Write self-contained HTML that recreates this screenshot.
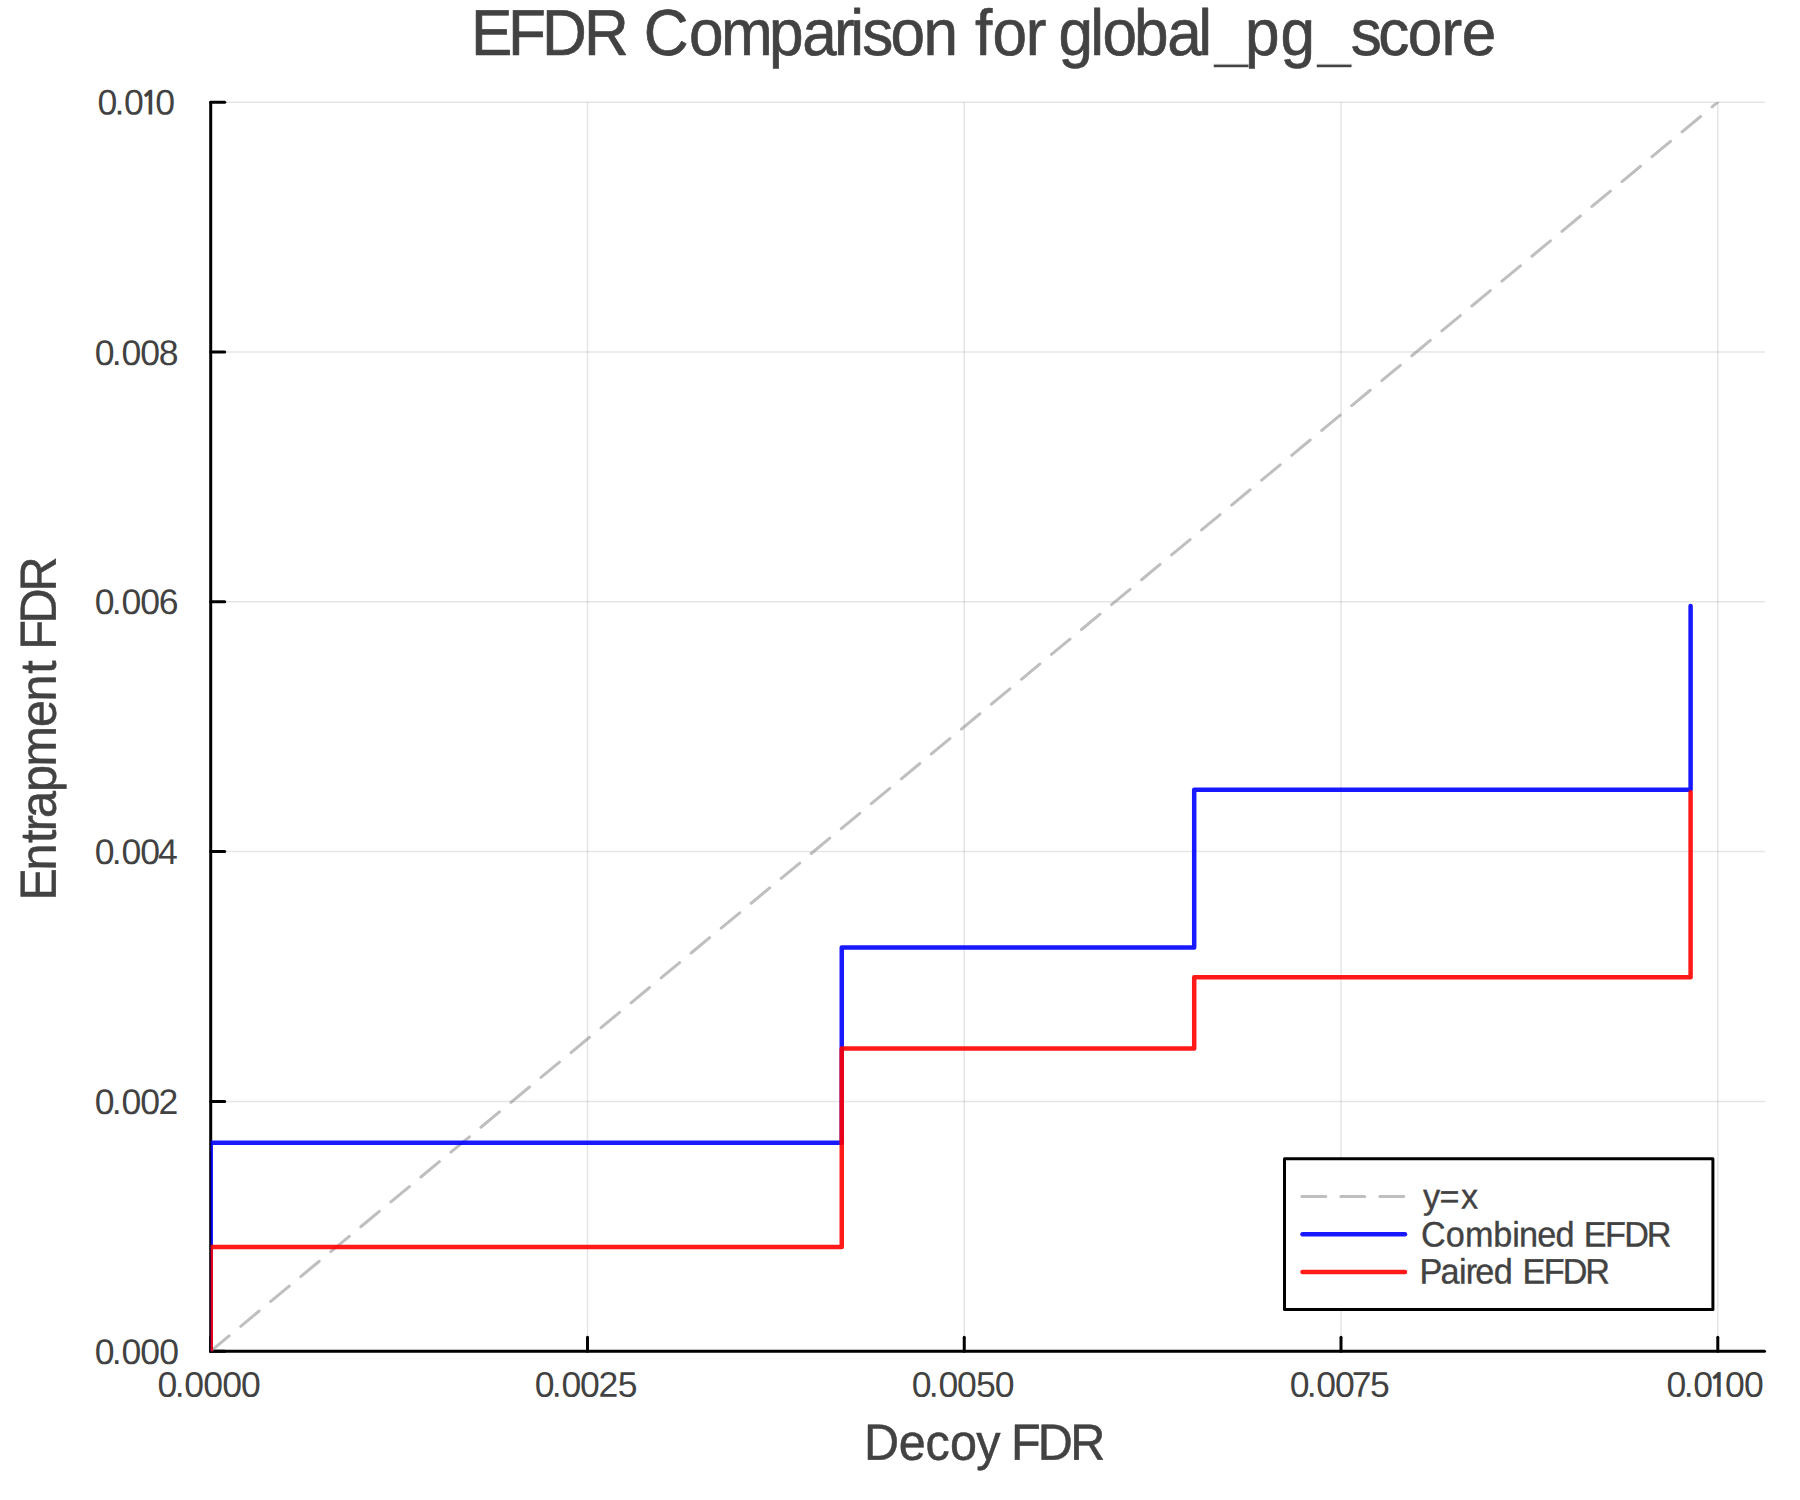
<!DOCTYPE html>
<html lang="en">
<head>
<meta charset="utf-8">
<title>EFDR Comparison for global_pg_score</title>
<style>
  html, body { margin: 0; padding: 0; background: #ffffff; }
  body { width: 1800px; height: 1500px; overflow: hidden; }
  svg { display: block; }
  text { font-family: "Liberation Sans", sans-serif; fill: #424242; text-rendering: geometricPrecision; stroke: #424242; stroke-width: 0.01em; stroke-linejoin: round; }
  .tk text { stroke: none; }
  .us { stroke: #ffffff; stroke-width: 1.3px; }
  .one { font-family: "NanumGothic", "Liberation Sans", sans-serif; font-weight: bold; }
  .grid line { stroke: #000; stroke-opacity: 0.1; stroke-width: 1.5; }
  .axis line { stroke: #000; stroke-width: 3; stroke-linecap: round; }
</style>
</head>
<body>
<svg width="1800" height="1500" viewBox="0 0 1800 1500">
  <defs>
    <clipPath id="plotclip"><rect x="210.7" y="102.2" width="1554.3" height="1249"/></clipPath>
  </defs>
  <rect x="0" y="0" width="1800" height="1500" fill="#ffffff"/>

  <!-- grid -->
  <g class="grid">
    <line x1="587.5" y1="102.2" x2="587.5" y2="1351.2"/>
    <line x1="964.25" y1="102.2" x2="964.25" y2="1351.2"/>
    <line x1="1341" y1="102.2" x2="1341" y2="1351.2"/>
    <line x1="1717.8" y1="102.2" x2="1717.8" y2="1351.2"/>
    <line x1="210.7" y1="1101.4" x2="1765" y2="1101.4"/>
    <line x1="210.7" y1="851.6" x2="1765" y2="851.6"/>
    <line x1="210.7" y1="601.8" x2="1765" y2="601.8"/>
    <line x1="210.7" y1="352" x2="1765" y2="352"/>
    <line x1="210.7" y1="102.2" x2="1765" y2="102.2"/>
  </g>

  <!-- axes + ticks -->
  <g class="axis">
    <line x1="210.7" y1="1351.2" x2="1764.5" y2="1351.2"/>
    <line x1="210.7" y1="102.2" x2="210.7" y2="1351.2"/>
    <line x1="210.7" y1="1351.2" x2="210.7" y2="1337.2"/>
    <line x1="587.5" y1="1351.2" x2="587.5" y2="1337.2"/>
    <line x1="964.25" y1="1351.2" x2="964.25" y2="1337.2"/>
    <line x1="1341" y1="1351.2" x2="1341" y2="1337.2"/>
    <line x1="1717.8" y1="1351.2" x2="1717.8" y2="1337.2"/>
    <line x1="210.7" y1="1351.2" x2="224.7" y2="1351.2"/>
    <line x1="210.7" y1="1101.4" x2="224.7" y2="1101.4"/>
    <line x1="210.7" y1="851.6" x2="224.7" y2="851.6"/>
    <line x1="210.7" y1="601.8" x2="224.7" y2="601.8"/>
    <line x1="210.7" y1="352" x2="224.7" y2="352"/>
    <line x1="210.7" y1="102.2" x2="224.7" y2="102.2"/>
  </g>

  <!-- series -->
  <g clip-path="url(#plotclip)" fill="none" stroke-linejoin="round" stroke-linecap="round">
    <line x1="210.7" y1="1351.2" x2="1717.8" y2="102.2" stroke="#808080" stroke-opacity="0.5" stroke-width="3" stroke-dasharray="24 15"/>
    <polyline points="210.7,1351.2 210.7,1142.75 841.75,1142.75 841.75,947.4 1194.2,947.4 1194.2,789.75 1690.6,789.75 1690.6,606" stroke="#0000ff" stroke-opacity="0.9" stroke-width="4.5"/>
    <polyline points="210.7,1351.2 210.7,1247.05 841.75,1247.05 841.75,1048.5 1194.2,1048.5 1194.2,977.15 1690.6,977.15 1690.6,792.25" stroke="#ff0000" stroke-opacity="0.9" stroke-width="4.5"/>
  </g>

  <!-- legend -->
  <rect x="1284.5" y="1158.7" width="428.4" height="150.8" fill="#ffffff" stroke="#000" stroke-width="3" stroke-linejoin="round"/>
  <g fill="none" stroke-linecap="round">
    <line x1="1301.8" y1="1196.4" x2="1405.7" y2="1196.4" stroke="#808080" stroke-opacity="0.5" stroke-width="3" stroke-dasharray="24 15"/>
    <line x1="1302.5" y1="1234.2" x2="1405" y2="1234.2" stroke="#0000ff" stroke-opacity="0.9" stroke-width="4.5"/>
    <line x1="1302.5" y1="1271.9" x2="1405" y2="1271.9" stroke="#ff0000" stroke-opacity="0.9" stroke-width="4.5"/>
  </g>
  <!-- legend labels -->
  <text transform="translate(1450.57,1208.6) rotate(0.03) scale(0.969,1)" font-size="35.3" x="-28.33 -11.49 10.68" y="0">y=x</text>
  <text transform="translate(1546.2,1246.5) rotate(0.03) scale(0.969,1)" font-size="35.3" x="-129.2 -103.55 -83.88 -54.6 -35.08 -28.15 -9.14 9.66 29.29 38.69 60.67 80.48 103.7" y="0">Combined EFDR</text>
  <text transform="translate(1514.8,1283.5) rotate(0.03) scale(0.969,1)" font-size="35.3" x="-98.25 -76.73 -57.57 -50.74 -40.92 -21.7 -2.07 8.05 29.82 49.43 72.75" y="0">Paired EFDR</text>

  <!-- title -->
  <text transform="translate(983.6,54.7) scale(0.955,1)" font-size="65" x="-536.85 -498.1 -462.5 -418.52 -371.58 -355.76 -308.49 -275.1 -224.71 -189.77 -156.77 -139.63 -127.04 -97.6 -62.95 -26.8 -8.88 9.21 44.27 65.92 78.32 111.64 124.39 157.49 192.43 224.73 241.2 273.72 310.78 349.05 384.37 413.37 444.18 479.46 500.7" y="0">EFDR Comparison for global<tspan class="us">_</tspan>pg<tspan class="us">_</tspan>score</text>

  <!-- axis guides -->
  <text transform="translate(984.64,1459.7) rotate(0.03) scale(0.955,1)" font-size="50.8" x="-126.3 -89.95 -61.99 -36.31 -8.85 16.55 27.63 55.58 89.62" y="0">Decoy FDR</text>
  <text transform="translate(55.8,728.46) rotate(-89.97) scale(0.955,1)" font-size="50.8" x="-180.23 -148.86 -119.87 -107.6 -93.82 -66.66 -39.96 1.47 28.31 57.31 71.42 82.39 110.03 143.54" y="0">Entrapment FDR</text>

  <!-- x tick labels -->
  <g class="tk">
    <text transform="translate(209.16,1396.7) rotate(0.03)" font-size="35.6" x="-51.55 -34.41 -24.85 -5.85 13.15 31.75" y="0">0.0000</text>
    <text transform="translate(586.09,1396.7) rotate(0.03)" font-size="35.6" x="-51.38 -34.24 -24.68 -6.08 12.52 31.58" y="0">0.0025</text>
    <text transform="translate(963.11,1396.7) rotate(0.03)" font-size="35.6" x="-51.4 -34.26 -24.7 -6.1 12.87 31.6" y="0">0.0050</text>
    <text transform="translate(1339.79,1396.7) rotate(0.03)" font-size="35.6" x="-49.98 -33.04 -23.58 -4.78 12.08 30.18" y="0">0.0075</text>
    <text transform="translate(1715.16,1396.7) rotate(0.03)" font-size="35.6" x="-48.55 -31.41 -21.85 -6.81 9.75 28.75" y="0">0.0<tspan class="one" font-size="32.6">1</tspan>00</text>
  </g>
  <!-- y tick labels -->
  <g class="tk">
    <text transform="translate(136.86,1364) rotate(0.03)" font-size="35.6" x="-42.15 -25.11 -15.45 3.45 22.35" y="0">0.000</text>
    <text transform="translate(136.51,1114) rotate(0.03)" font-size="35.6" x="-41.8 -24.76 -15.1 3.8 22" y="0">0.002</text>
    <text transform="translate(136.3,864) rotate(0.03)" font-size="35.6" x="-41.59 -24.55 -14.89 4.01 21.79" y="0">0.004</text>
    <text transform="translate(136.65,613.9) rotate(0.03)" font-size="35.6" x="-41.94 -24.9 -15.24 3.66 22.14" y="0">0.006</text>
    <text transform="translate(136.63,365) rotate(0.03)" font-size="35.6" x="-41.92 -24.88 -15.22 3.68 22.12" y="0">0.008</text>
    <text transform="translate(136.31,114.6) rotate(0.03)" font-size="35.6" x="-38.8 -21.76 -12.4 3.34 19" y="0">0.0<tspan class="one" font-size="32.6">1</tspan>0</text>
  </g>
</svg>
</body>
</html>
